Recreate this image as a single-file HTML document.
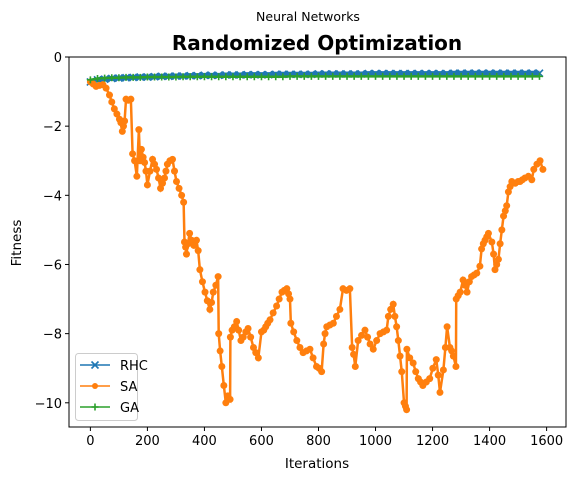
<!DOCTYPE html>
<html><head><meta charset="utf-8"><style>
body{margin:0;background:#fff;}
svg{display:block;font-family:"DejaVu Sans","Liberation Sans",sans-serif;}
</style></head><body>
<svg id="chart" width="578" height="480" viewBox="0 0 578 480">
<text x="308" y="21" text-anchor="middle" font-size="12.5">Neural Networks</text>
<text x="317" y="50" text-anchor="middle" font-size="20" font-weight="bold">Randomized Optimization</text>
<text transform="translate(21,243) rotate(-90)" text-anchor="middle" font-size="13.5">Fitness</text>
<text x="317" y="468" text-anchor="middle" font-size="13.5">Iterations</text>
<g id="plot"></g>
<g id="axes"></g>
</svg>
<script>
const rhcStep = 25;
const rhcValues = [-0.72,-0.66,-0.64,-0.62,-0.61,-0.60,-0.59,-0.58,-0.58,-0.57,-0.56,-0.56,-0.55,-0.55,-0.54,-0.54,-0.53,-0.53,-0.53,-0.52,-0.52,-0.52,-0.51,-0.51,-0.51,-0.51,-0.50,-0.50,-0.50,-0.50,-0.50,-0.50,-0.49,-0.49,-0.49,-0.49,-0.49,-0.49,-0.49,-0.48,-0.48,-0.48,-0.48,-0.48,-0.48,-0.48,-0.48,-0.48,-0.48,-0.48,-0.48,-0.47,-0.47,-0.47,-0.47,-0.47,-0.47,-0.47,-0.47,-0.47,-0.47,-0.47,-0.47,-0.47];
const gaStep = 25;
const gaValues = [-0.66,-0.62,-0.61,-0.60,-0.60,-0.59,-0.59,-0.59,-0.58,-0.58,-0.58,-0.58,-0.58,-0.57,-0.57,-0.57,-0.57,-0.57,-0.57,-0.57,-0.57,-0.57,-0.57,-0.57,-0.57,-0.57,-0.57,-0.57,-0.56,-0.56,-0.56,-0.56,-0.56,-0.56,-0.56,-0.56,-0.56,-0.56,-0.56,-0.56,-0.56,-0.56,-0.56,-0.56,-0.56,-0.56,-0.56,-0.56,-0.56,-0.56,-0.56,-0.56,-0.56,-0.56,-0.56,-0.56,-0.56,-0.56,-0.56,-0.56,-0.56,-0.56,-0.56,-0.56];
const saIters = [0,10,20,32,44,55,67,75,84,93,102,107,112,116,120,125,133,142,148,155,163,170,174,179,185,190,195,200,209,218,225,232,239,246,253,260,265,270,279,288,295,302,311,320,327,330,334,337,342,348,355,363,372,378,384,393,402,410,419,425,431,440,448,450,455,461,468,475,482,490,491,497,505,513,520,528,536,545,553,562,572,580,589,600,608,615,622,630,641,653,662,672,680,689,695,700,703,713,724,735,746,758,770,781,793,802,811,818,823,829,840,852,863,875,886,898,910,918,923,929,939,951,963,972,981,992,1004,1016,1028,1039,1045,1053,1062,1068,1074,1080,1086,1092,1100,1105,1109,1110,1120,1132,1141,1150,1158,1166,1178,1190,1201,1213,1220,1226,1238,1245,1251,1261,1267,1273,1282,1283,1290,1297,1307,1314,1321,1329,1337,1346,1355,1366,1372,1378,1384,1390,1396,1408,1414,1419,1425,1431,1437,1443,1449,1455,1460,1466,1472,1478,1490,1500,1507,1515,1524,1536,1548,1555,1566,1577,1587];
const saValues = [-0.72,-0.78,-0.85,-0.82,-0.8,-0.9,-1.1,-1.3,-1.5,-1.65,-1.8,-1.9,-2.15,-2.0,-1.85,-1.22,-1.25,-1.22,-2.8,-3.0,-3.45,-2.1,-3.0,-2.67,-2.9,-3.05,-3.3,-3.7,-3.3,-2.96,-3.1,-3.25,-3.5,-3.8,-3.65,-3.5,-3.3,-3.1,-3.0,-2.96,-3.3,-3.6,-3.8,-4.0,-4.2,-5.35,-5.5,-5.7,-5.4,-5.1,-5.3,-5.45,-5.3,-5.6,-6.15,-6.5,-6.8,-7.05,-7.3,-7.1,-6.8,-6.6,-6.35,-8.0,-8.5,-8.95,-9.5,-10.0,-9.8,-9.9,-8.1,-7.9,-7.8,-7.65,-7.9,-8.2,-8.1,-7.95,-7.85,-8.1,-8.4,-8.55,-8.7,-7.95,-7.9,-7.8,-7.7,-7.6,-7.4,-7.2,-7.0,-6.8,-6.75,-6.7,-6.85,-7.0,-7.7,-7.95,-8.2,-8.4,-8.55,-8.5,-8.45,-8.7,-8.95,-9.0,-9.1,-8.3,-8.0,-7.8,-7.75,-7.7,-7.5,-7.3,-6.7,-6.75,-6.7,-8.4,-8.6,-8.95,-8.2,-8.05,-7.9,-8.1,-8.3,-8.45,-8.2,-8.0,-7.95,-7.9,-7.5,-7.3,-7.15,-7.5,-7.8,-8.2,-8.65,-9.1,-10.0,-10.1,-10.2,-8.45,-8.7,-8.85,-9.1,-9.3,-9.4,-9.5,-9.4,-9.3,-9.0,-8.75,-9.2,-9.7,-9.05,-8.4,-7.8,-8.4,-8.5,-8.65,-8.95,-7.0,-6.9,-6.8,-6.45,-6.6,-6.8,-6.5,-6.35,-6.3,-6.25,-6.05,-5.55,-5.4,-5.3,-5.2,-5.1,-5.35,-5.7,-6.15,-6.0,-5.85,-5.4,-5.0,-4.6,-4.45,-4.3,-3.9,-3.75,-3.6,-3.65,-3.6,-3.6,-3.55,-3.5,-3.45,-3.55,-3.25,-3.1,-3.0,-3.25];
const xTicks = [0,200,400,600,800,1000,1200,1400,1600];
const yTicks = [0,-2,-4,-6,-8,-10];
const legendLabels = ["RHC","SA","GA"];

const L=69,R=566,T=57,B=427;
const xMin=-75, xMax=1668, yMin=-10.7, yMax=0.0;
function X(v){return L+(v-xMin)/(xMax-xMin)*(R-L);}
function Y(v){return T+(yMax-v)/(yMax-yMin)*(B-T);}
const NS="http://www.w3.org/2000/svg";
function mk(tag,attrs,parent){const e=document.createElementNS(NS,tag);for(const k in attrs)e.setAttribute(k,attrs[k]);parent.appendChild(e);return e;}
const plot=document.getElementById('plot'), axes=document.getElementById('axes');
const C={rhc:"#1f77b4",sa:"#ff7f0e",ga:"#2ca02c"};

function xMarker(g,x,y,col,s){return mk('path',{d:`M${x-s} ${y-s}L${x+s} ${y+s}M${x-s} ${y+s}L${x+s} ${y-s}`,stroke:col,'stroke-width':1.6,fill:'none'},g);}
function plusMarker(g,x,y,col,s){return mk('path',{d:`M${x-s} ${y}L${x+s} ${y}M${x} ${y-s}L${x} ${y+s}`,stroke:col,'stroke-width':1.6,fill:'none'},g);}

// RHC
const gR=mk('g',{},plot);


let pts=rhcValues.map((v,i)=>X(i*rhcStep)+','+Y(v)).join(' ');
mk('polyline',{points:pts,fill:'none',stroke:C.rhc,'stroke-width':5},gR);
rhcValues.forEach((v,i)=>{const m=xMarker(gR,X(i*rhcStep),Y(v),C.rhc,3.5);

});

// SA
const gS=mk('g',{},plot);


pts=saValues.map((v,i)=>X(saIters[i])+','+Y(v)).join(' ');
mk('polyline',{points:pts,fill:'none',stroke:C.sa,'stroke-width':2.5},gS);
saValues.forEach((v,i)=>{const m=mk('circle',{cx:X(saIters[i]),cy:Y(v),r:3.5,fill:C.sa},gS);

});

// GA
const gG=mk('g',{},plot);


pts=gaValues.map((v,i)=>X(i*gaStep)+','+Y(v)).join(' ');
mk('polyline',{points:pts,fill:'none',stroke:C.ga,'stroke-width':2.5},gG);
gaValues.forEach((v,i)=>{const m=plusMarker(gG,X(i*gaStep),Y(v),C.ga,3.5);

});

// axes frame
const fr=mk('rect',{x:L,y:T,width:R-L,height:B-T,fill:'none',stroke:'#000','stroke-width':1},axes);


xTicks.forEach(t=>{const x=X(t);
mk('line',{x1:x,x2:x,y1:B,y2:B+4,stroke:'#000'},axes);
const tx=mk('text',{x:x,y:B+18,'text-anchor':'middle','font-size':13},axes);tx.textContent=String(t);

});
yTicks.forEach(t=>{const y=Y(t);
mk('line',{x1:L-4,x2:L,y1:y,y2:y,stroke:'#000'},axes);
const tx=mk('text',{x:L-7,y:y+5,'text-anchor':'end','font-size':13},axes);tx.textContent=(t<0?'\u2212'+(-t):String(t));

});

// legend
const lg=mk('g',{},axes);


mk('rect',{x:75.5,y:353.5,width:62,height:67,rx:3,fill:'#fff','fill-opacity':0.8,stroke:'#ccc'},lg);
const cols=[C.rhc,C.sa,C.ga];
legendLabels.forEach((lab,i)=>{const y=365+i*21;const e=mk('g',{},lg);


mk('line',{x1:80,x2:110,y1:y,y2:y,stroke:cols[i],'stroke-width':1.5},e);
if(i===0)xMarker(e,95,y,cols[i],3.5);else if(i===1)mk('circle',{cx:95,cy:y,r:3,fill:cols[i]},e);else plusMarker(e,95,y,cols[i],3.5);
const tx=mk('text',{x:120,y:y+5,'font-size':13},e);tx.textContent=lab;});
</script>
</body></html>
